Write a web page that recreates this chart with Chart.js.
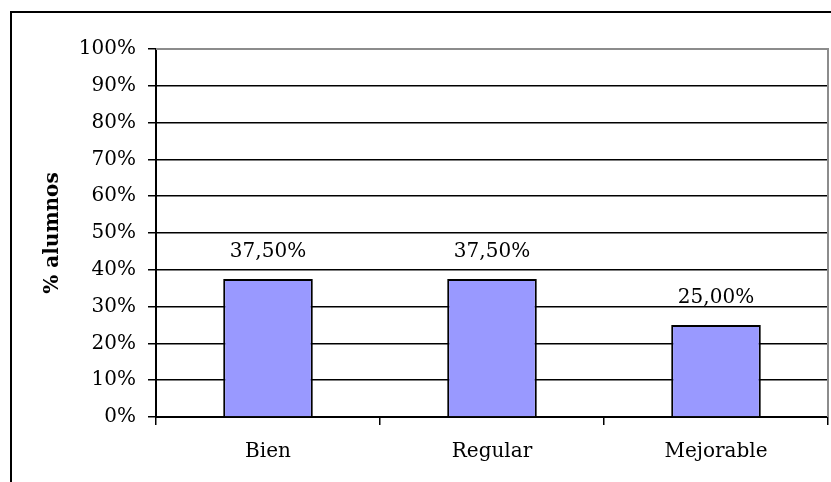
<!DOCTYPE html>
<html>
<head>
<meta charset="utf-8">
<script src="https://cdn.jsdelivr.net/npm/chart.js@4.4.1/dist/chart.umd.min.js"></script>
<style>
  html, body { margin: 0; padding: 0; background: #fff; }
  #wrap { width: 831px; height: 482px; position: relative; }
</style>
</head>
<body>
<div id="wrap"><canvas id="chart" width="831" height="482"></canvas></div>
<script>
// data
const categories = ["Bien", "Regular", "Mejorable"];
const percentages = [37.5, 37.5, 25.0];
const yTicks = [0, 10, 20, 30, 40, 50, 60, 70, 80, 90, 100];

const serif = "'DejaVu Serif', 'Liberation Serif', serif";

// outer frame and the grey border round the plot area
const framePlugin = {
  id: "frame",
  beforeDraw(chart) {
    const ctx = chart.ctx;
    ctx.save();
    ctx.strokeStyle = "#000";
    ctx.lineWidth = 2;
    ctx.beginPath();
    ctx.moveTo(11, chart.height);
    ctx.lineTo(11, 12);
    ctx.lineTo(chart.width, 12);
    ctx.stroke();
    ctx.restore();
  },
  afterDraw(chart) {
    const a = chart.chartArea;
    const ctx = chart.ctx;
    ctx.save();
    ctx.strokeStyle = "#8c8c8c";
    ctx.lineWidth = 2;
    ctx.beginPath();
    ctx.moveTo(a.left, a.top);
    ctx.lineTo(a.right, a.top);
    ctx.lineTo(a.right, a.bottom);
    ctx.stroke();
    ctx.restore();
  }
};

// value labels over each bar
const valueLabels = {
  id: "valueLabels",
  afterDatasetsDraw(chart) {
    const ctx = chart.ctx;
    const meta = chart.getDatasetMeta(0);
    ctx.save();
    ctx.font = "20px " + serif;
    ctx.fillStyle = "#000";
    ctx.textAlign = "center";
    ctx.textBaseline = "middle";
    meta.data.forEach((bar, i) => {
      const txt = percentages[i].toFixed(2).replace(".", ",") + "%";
      ctx.fillText(txt, bar.x, bar.y - 27);
    });
    ctx.restore();
  }
};

const data = {
  labels: categories,
  datasets: [
    {
      data: percentages,
      backgroundColor: "#9999ff",
      borderColor: "#000",
      borderWidth: 2,
      barPercentage: 0.4,
      categoryPercentage: 1
    }
  ]
};

const config = {
  type: "bar",
  data: data,
  options: {
    responsive: false,
    animation: false,
    layout: { padding: { left: 0, top: 49, right: 3, bottom: 0 } },
    plugins: {
      legend: { display: false },
      tooltip: { enabled: false }
    },
    scales: {
      x: {
        afterFit: (s) => { s.height = 65; },
        grid: {
          offset: true,
          drawOnChartArea: false,
          drawTicks: true,
          tickLength: 8,
          color: "#000",
          lineWidth: 1.5
        },
        border: { color: "#000", width: 2 },
        ticks: {
          color: "#000",
          padding: 15,
          font: { family: serif, size: 20 }
        }
      },
      y: {
        min: 0,
        max: 100,
        afterFit: (s) => { s.width = 156; },
        afterBuildTicks: (s) => { s.ticks = yTicks.map((v) => ({ value: v })); },
        grid: {
          color: (c) => (c.tick && c.tick.value === 100 ? "#8c8c8c" : "#000"),
          lineWidth: 1.5,
          tickLength: 8,
          tickColor: "#000"
        },
        border: { color: "#000", width: 2 },
        ticks: {
          color: "#000",
          padding: 12,
          font: { family: serif, size: 20 },
          callback: (v) => v + "%"
        },
        title: {
          display: true,
          text: "% alumnos",
          color: "#000",
          padding: { top: 41, bottom: 0 },
          font: { family: serif, size: 20, weight: "bold" }
        }
      }
    }
  },
  plugins: [framePlugin, valueLabels]
};

const myChart = new Chart(document.getElementById("chart"), config);
</script>
</body>
</html>
